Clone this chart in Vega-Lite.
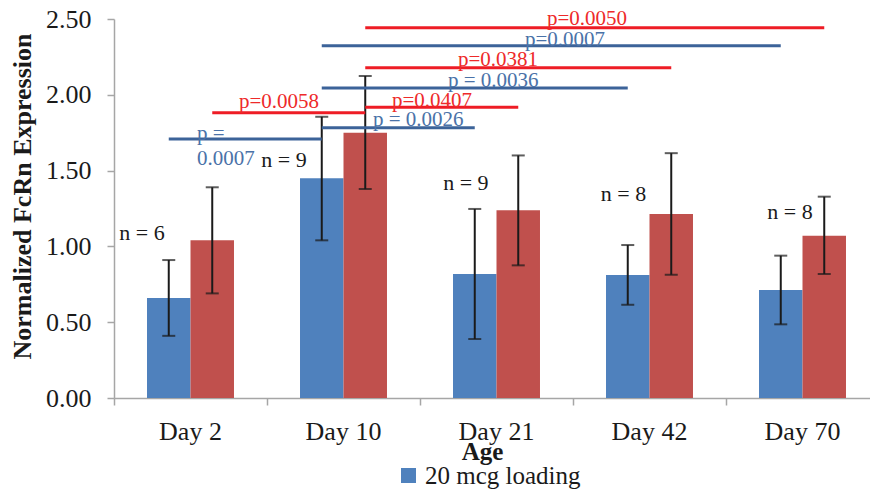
{
  "$schema": "https://vega.github.io/schema/vega-lite/v6.json",
  "autosize": {"type": "none"},
  "padding": {"top": 19, "left": 114, "right": 0, "bottom": 92},
  "width": 756,
  "height": 379,
  "background": "white",
  "config": {"view": {"stroke": null}, "font": "Liberation Serif"},
  "datasets": {
    "bars": [
      {"age": "Day 2", "group": "20 mcg loading", "mean": 0.66, "lo": 0.41, "hi": 0.91},
      {"age": "Day 2", "group": "Comparison group", "mean": 1.04, "lo": 0.69, "hi": 1.39},
      {"age": "Day 10", "group": "20 mcg loading", "mean": 1.45, "lo": 1.04, "hi": 1.855},
      {"age": "Day 10", "group": "Comparison group", "mean": 1.75, "lo": 1.378, "hi": 2.124},
      {"age": "Day 21", "group": "20 mcg loading", "mean": 0.818, "lo": 0.389, "hi": 1.247},
      {"age": "Day 21", "group": "Comparison group", "mean": 1.238, "lo": 0.875, "hi": 1.6},
      {"age": "Day 42", "group": "20 mcg loading", "mean": 0.811, "lo": 0.615, "hi": 1.009},
      {"age": "Day 42", "group": "Comparison group", "mean": 1.214, "lo": 0.813, "hi": 1.615},
      {"age": "Day 70", "group": "20 mcg loading", "mean": 0.712, "lo": 0.486, "hi": 0.939},
      {"age": "Day 70", "group": "Comparison group", "mean": 1.071, "lo": 0.818, "hi": 1.328}
    ],
    "comparisons": [
      {"group": "20 mcg loading", "from": "Day 2", "to": "Day 10", "level": 1.708, "p": "p =\n0.0007", "labelPos": 0.542, "labelLevel": 1.705},
      {"group": "Comparison group", "from": "Day 2", "to": "Day 10", "level": 1.882, "p": "p=0.0058", "labelPos": 0.817, "labelLevel": 1.911},
      {"group": "20 mcg loading", "from": "Day 10", "to": "Day 21", "level": 1.783, "p": "p = 0.0026", "labelPos": 1.693, "labelLevel": 1.794},
      {"group": "Comparison group", "from": "Day 10", "to": "Day 21", "level": 1.918, "p": "p=0.0407", "labelPos": 1.817, "labelLevel": 1.921},
      {"group": "20 mcg loading", "from": "Day 10", "to": "Day 42", "level": 2.045, "p": "p = 0.0036", "labelPos": 2.183, "labelLevel": 2.053},
      {"group": "Comparison group", "from": "Day 10", "to": "Day 42", "level": 2.179, "p": "p=0.0381", "labelPos": 2.248, "labelLevel": 2.192},
      {"group": "20 mcg loading", "from": "Day 10", "to": "Day 70", "level": 2.324, "p": "p=0.0007", "labelPos": 2.686, "labelLevel": 2.324},
      {"group": "Comparison group", "from": "Day 10", "to": "Day 70", "level": 2.443, "p": "p=0.0050", "labelPos": 2.83, "labelLevel": 2.46}
    ],
    "counts": [
      {"age": "Day 2", "label": "n = 6", "pos": 0.183, "level": 1.042},
      {"age": "Day 10", "label": "n = 9", "pos": 1.111, "level": 1.526},
      {"age": "Day 21", "label": "n = 9", "pos": 2.3, "level": 1.372},
      {"age": "Day 42", "label": "n = 8", "pos": 3.33, "level": 1.301},
      {"age": "Day 70", "label": "n = 8", "pos": 4.418, "level": 1.179}
    ]
  },
  "layer": [
    {
      "layer": [
        {
          "data": {"name": "bars"},
          "mark": {"type": "bar"},
          "encoding": {
            "x": {
              "field": "age", "type": "nominal", "title": "Age",
              "scale": {"domain": ["Day 2", "Day 10", "Day 21", "Day 42", "Day 70"], "range": [0, 765], "paddingInner": 0, "paddingOuter": 0},
              "axis": {
                "labelAngle": 0, "labelFont": "Liberation Serif", "labelFontSize": 26, "labelColor": "#1a1a1a",
                "labelPadding": 13, "bandPosition": 0, "tickSize": 7, "tickColor": "#a6a6a6", "tickWidth": 1.5,
                "domainColor": "#a6a6a6", "domainWidth": 1.5,
                "titleFont": "Liberation Serif", "titleFontSize": 25, "titleFontWeight": "bold", "titleColor": "#1a1a1a",
                "titleX": 368, "titleY": 41, "titleBaseline": "top"
              }
            },
            "xOffset": {
              "field": "group", "type": "nominal",
              "scale": {"domain": ["20 mcg loading", "Comparison group"], "paddingInner": 0, "paddingOuter": 0.759}
            },
            "y": {
              "field": "mean", "type": "quantitative", "title": "Normalized FcRn Expression",
              "scale": {"domain": [0, 2.5], "nice": false},
              "axis": {
                "values": [0, 0.5, 1, 1.5, 2, 2.5], "format": ".2f", "grid": false,
                "labelFont": "Liberation Serif", "labelFontSize": 26, "labelColor": "#1a1a1a", "labelPadding": 16,
                "tickSize": 7, "tickColor": "#a6a6a6", "tickWidth": 1.5, "domainColor": "#a6a6a6", "domainWidth": 1.5,
                "titleFont": "Liberation Serif", "titleFontSize": 26, "titleFontWeight": "bold", "titleColor": "#1a1a1a",
                "titleX": -84, "titleY": 177, "titleBaseline": "alphabetic", "titleAngle": -90, "titleAlign": "center"
              }
            },
            "color": {
              "field": "group", "type": "nominal",
              "scale": {"domain": ["20 mcg loading", "Comparison group"], "range": ["#4F81BD", "#C0504D"]},
              "legend": {
                "values": ["20 mcg loading"], "title": null, "orient": "none", "legendX": 282, "legendY": 444,
                "padding": 0, "symbolType": "square", "symbolSize": 225, "symbolStrokeWidth": 0, "symbolOpacity": 1,
                "labelFont": "Liberation Serif", "labelFontSize": 25, "labelColor": "#1a1a1a", "labelOffset": 4
              }
            }
          }
        },
        {
          "data": {"name": "bars"},
          "mark": {"type": "rule", "color": "#1a1a1a", "strokeWidth": 2},
          "encoding": {
            "x": {"field": "age", "type": "nominal", "scale": {"domain": ["Day 2", "Day 10", "Day 21", "Day 42", "Day 70"]}},
            "xOffset": {"field": "group", "type": "nominal"},
            "y": {"field": "lo", "type": "quantitative", "title": "Normalized FcRn Expression"},
            "y2": {"field": "hi"}
          }
        },
        {
          "data": {"name": "bars"},
          "mark": {"type": "tick", "orient": "horizontal", "color": "#1a1a1a", "size": 13, "thickness": 2},
          "encoding": {
            "x": {"field": "age", "type": "nominal", "scale": {"domain": ["Day 2", "Day 10", "Day 21", "Day 42", "Day 70"]}},
            "xOffset": {"field": "group", "type": "nominal"},
            "y": {"field": "lo", "type": "quantitative", "title": "Normalized FcRn Expression"}
          }
        },
        {
          "data": {"name": "bars"},
          "mark": {"type": "tick", "orient": "horizontal", "color": "#1a1a1a", "size": 13, "thickness": 2},
          "encoding": {
            "x": {"field": "age", "type": "nominal", "scale": {"domain": ["Day 2", "Day 10", "Day 21", "Day 42", "Day 70"]}},
            "xOffset": {"field": "group", "type": "nominal"},
            "y": {"field": "hi", "type": "quantitative", "title": "Normalized FcRn Expression"}
          }
        },
        {
          "data": {"name": "comparisons"},
          "transform": [{"filter": {"field": "group", "equal": "20 mcg loading"}}],
          "mark": {"type": "rule", "color": "#3C6399", "strokeWidth": 3, "xOffset": -21.75, "x2Offset": -21.75},
          "encoding": {
            "x": {"field": "from", "type": "nominal", "scale": {"domain": ["Day 2", "Day 10", "Day 21", "Day 42", "Day 70"]}},
            "x2": {"field": "to"},
            "y": {"field": "level", "type": "quantitative", "title": "Normalized FcRn Expression"}
          }
        },
        {
          "data": {"name": "comparisons"},
          "transform": [{"filter": {"field": "group", "equal": "Comparison group"}}],
          "mark": {"type": "rule", "color": "#EE1C25", "strokeWidth": 3, "xOffset": 21.75, "x2Offset": 21.75},
          "encoding": {
            "x": {"field": "from", "type": "nominal", "scale": {"domain": ["Day 2", "Day 10", "Day 21", "Day 42", "Day 70"]}},
            "x2": {"field": "to"},
            "y": {"field": "level", "type": "quantitative", "title": "Normalized FcRn Expression"}
          }
        }
      ]
    },
    {
      "data": {"name": "comparisons"},
      "transform": [{"filter": {"field": "group", "equal": "20 mcg loading"}}],
      "mark": {"type": "text", "align": "left", "baseline": "alphabetic", "font": "Liberation Serif", "fontSize": 21, "color": "#4A72A8", "lineBreak": "\n", "lineHeight": 25},
      "encoding": {
        "x": {"field": "labelPos", "type": "quantitative", "scale": {"domain": [0, 5], "range": [0, 765], "nice": false, "zero": false}, "axis": null},
        "y": {"field": "labelLevel", "type": "quantitative", "title": "Normalized FcRn Expression"},
        "text": {"field": "p"}
      }
    },
    {
      "data": {"name": "comparisons"},
      "transform": [{"filter": {"field": "group", "equal": "Comparison group"}}],
      "mark": {"type": "text", "align": "left", "baseline": "alphabetic", "font": "Liberation Serif", "fontSize": 21, "color": "#EE2A2A"},
      "encoding": {
        "x": {"field": "labelPos", "type": "quantitative", "scale": {"domain": [0, 5], "range": [0, 765], "nice": false, "zero": false}, "axis": null},
        "y": {"field": "labelLevel", "type": "quantitative", "title": "Normalized FcRn Expression"},
        "text": {"field": "p"}
      }
    },
    {
      "data": {"name": "counts"},
      "mark": {"type": "text", "align": "center", "baseline": "alphabetic", "font": "Liberation Serif", "fontSize": 22, "color": "#1a1a1a"},
      "encoding": {
        "x": {"field": "pos", "type": "quantitative", "scale": {"domain": [0, 5], "range": [0, 765], "nice": false, "zero": false}, "axis": null},
        "y": {"field": "level", "type": "quantitative", "title": "Normalized FcRn Expression"},
        "text": {"field": "label"}
      }
    }
  ],
  "resolve": {"scale": {"x": "independent"}}
}
